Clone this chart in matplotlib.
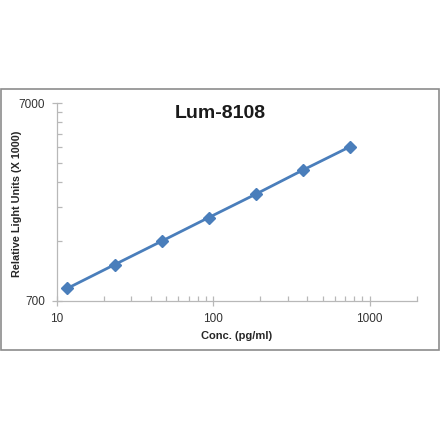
import matplotlib
matplotlib.use("Agg")
import matplotlib.pyplot as plt
from matplotlib.ticker import FixedLocator, NullFormatter, FixedFormatter
from matplotlib.patches import Rectangle

conc = [11.72, 23.44, 46.88, 93.75, 187.5, 375, 750]
rlu = [809, 1066, 1402, 1847, 2427, 3214, 4220]
x_ticks = [10, 100, 1000]
x_tick_labels = ["10", "100", "1000"]
y_ticks = [700, 7000]
y_tick_labels = ["700", "7000"]
title = "Lum-8108"
xlabel = "Conc. (pg/ml)"
ylabel = "Relative Light Units (X 1000)"

plt.rcParams['font.family'] = ['Liberation Sans', 'DejaVu Sans']

fig = plt.figure(figsize=(4.40, 4.41), dpi=100)
fig.patches.append(Rectangle((1/440, 91/441), 438/440, 261/441, transform=fig.transFigure,
                             fill=False, edgecolor='#8c8c8c', linewidth=1.2))
ax = fig.add_axes([56.7/440, 140.3/441, 360/440, 197.4/441])
ax.set_xscale('log')
ax.set_yscale('log')
ax.set_xlim(10, 2000)
ax.set_ylim(700, 7000)

blue = '#4a7ebb'
ax.plot(conc, rlu, color=blue, linewidth=2.0, marker='D', markersize=6.5,
        markerfacecolor=blue, markeredgecolor=blue, zorder=3)

for s in ['top', 'right']:
    ax.spines[s].set_visible(False)
for s in ['left', 'bottom']:
    ax.spines[s].set_color('#b8b8b8')
    ax.spines[s].set_linewidth(0.9)

ax.xaxis.set_major_locator(FixedLocator(x_ticks))
ax.xaxis.set_major_formatter(FixedFormatter(x_tick_labels))
xminor = [m * d for d in (10, 100, 1000) for m in range(2, 10) if m * d <= 2000]
ax.xaxis.set_minor_locator(FixedLocator(xminor))
ax.xaxis.set_minor_formatter(NullFormatter())
ax.yaxis.set_major_locator(FixedLocator(y_ticks))
ax.yaxis.set_major_formatter(FixedFormatter(y_tick_labels))
yminor = [700 * k for k in range(2, 10)]
ax.yaxis.set_minor_locator(FixedLocator(yminor))
ax.yaxis.set_minor_formatter(NullFormatter())

ax.tick_params(which='major', direction='inout', length=7, width=0.9, color='#b8b8b8',
               labelsize=8.5, labelcolor='#333333', pad=5)
ax.tick_params(which='minor', direction='in', length=3.5, width=0.9, color='#b8b8b8')

ax.set_xlabel(xlabel, fontsize=8, fontweight='bold', color='#262626', va='center')
ax.xaxis.set_label_coords(0.5, -(336 - 300.7) / 197.4)
ax.set_ylabel(ylabel, fontsize=7.8, fontweight='bold', color='#262626', va='center')
ax.yaxis.set_label_coords((17.5 - 56.7) / 360, 0.49)
fig.text(0.5, 1 - 113/441, title, ha='center', va='center', fontsize=14,
         fontweight='bold', color='#1a1a1a')

fig.savefig('out.png', dpi=100, facecolor='white')
